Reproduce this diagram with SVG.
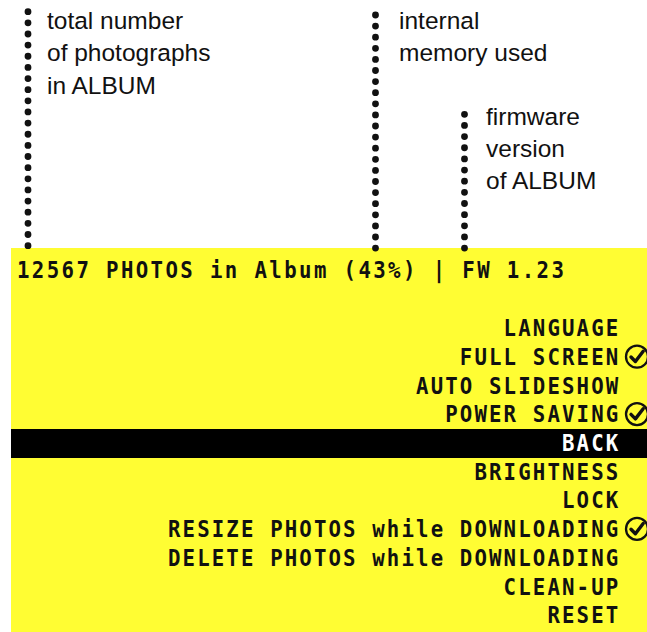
<svg xmlns="http://www.w3.org/2000/svg" width="647" height="632" viewBox="0 0 647 632">
<style>
.note{font-family:"Liberation Sans",Arial,sans-serif;font-size:24.5px;fill:#111}
.mono{font-family:"DejaVu Sans Mono","Liberation Mono",monospace;font-weight:bold;font-size:23px;letter-spacing:2.37px;fill:#111}
.item{text-anchor:end}
.dots{stroke:#111;stroke-width:6.8;stroke-linecap:round;fill:none}
.chk circle{fill:none;stroke:#111;stroke-width:2.3}
.chk path{fill:none;stroke:#111;stroke-width:3.4;stroke-linecap:round;stroke-linejoin:round}
</style>
<defs>
<g id="check" class="chk">
<circle cx="0" cy="0" r="11"/>
<path d="M-6,0.3 L-1.6,4.8 L6.2,-5.4"/>
</g>
</defs>
<rect id="screen" x="11" y="248" width="636" height="384" fill="#FFFD33"/>
<rect id="highlight" x="11" y="429" width="636" height="29" fill="#000"/>
<g id="connectors">
<line class="dots" x1="28" y1="11.7" x2="28" y2="245.8" stroke-dasharray="0 11.14"/>
<line class="dots" x1="375.5" y1="15" x2="375.5" y2="248.2" stroke-dasharray="0 11.1"/>
<line class="dots" x1="464.5" y1="114.3" x2="464.5" y2="248.2" stroke-dasharray="0 11.15"/>
</g>
<g id="note-photos">
<text class="note" x="47" y="28.5">total number</text>
<text class="note" x="47" y="61">of photographs</text>
<text class="note" x="47" y="93.5">in ALBUM</text>
</g>
<g id="note-memory">
<text class="note" x="399" y="28.5">internal</text>
<text class="note" x="399" y="61">memory used</text>
</g>
<g id="note-firmware">
<text class="note" x="486" y="125">firmware</text>
<text class="note" x="486" y="157">version</text>
<text class="note" x="486" y="188.5">of ALBUM</text>
</g>
<g id="status">
<text class="mono" transform="scale(0.9 1)" x="18.9" y="278.4" style="letter-spacing:2.65px">12567 PHOTOS in Album (43%) | FW 1.23</text>
</g>
<g id="menu">
<g id="item-language"><text class="mono item" transform="scale(0.9 1)" x="689.3" y="336.3">LANGUAGE</text></g>
<g id="item-fullscreen"><text class="mono item" transform="scale(0.9 1)" x="689.3" y="365">FULL SCREEN</text><use href="#check" x="637" y="356.7"/></g>
<g id="item-autoslideshow"><text class="mono item" transform="scale(0.9 1)" x="689.3" y="393.7">AUTO SLIDESHOW</text></g>
<g id="item-powersaving"><text class="mono item" transform="scale(0.9 1)" x="689.3" y="422.4">POWER SAVING</text><use href="#check" x="637" y="414.1"/></g>
<g id="item-back"><text class="mono item" transform="scale(0.9 1)" x="689.3" y="451.1" style="fill:#fff">BACK</text></g>
<g id="item-brightness"><text class="mono item" transform="scale(0.9 1)" x="689.3" y="479.8">BRIGHTNESS</text></g>
<g id="item-lock"><text class="mono item" transform="scale(0.9 1)" x="689.3" y="508.5">LOCK</text></g>
<g id="item-resize"><text class="mono item" transform="scale(0.9 1)" x="689.3" y="537.2">RESIZE PHOTOS while DOWNLOADING</text><use href="#check" x="637" y="528.9"/></g>
<g id="item-delete"><text class="mono item" transform="scale(0.9 1)" x="689.3" y="565.9">DELETE PHOTOS while DOWNLOADING</text></g>
<g id="item-cleanup"><text class="mono item" transform="scale(0.9 1)" x="689.3" y="594.6">CLEAN-UP</text></g>
<g id="item-reset"><text class="mono item" transform="scale(0.9 1)" x="689.3" y="623.3">RESET</text></g>
</g>
</svg>
